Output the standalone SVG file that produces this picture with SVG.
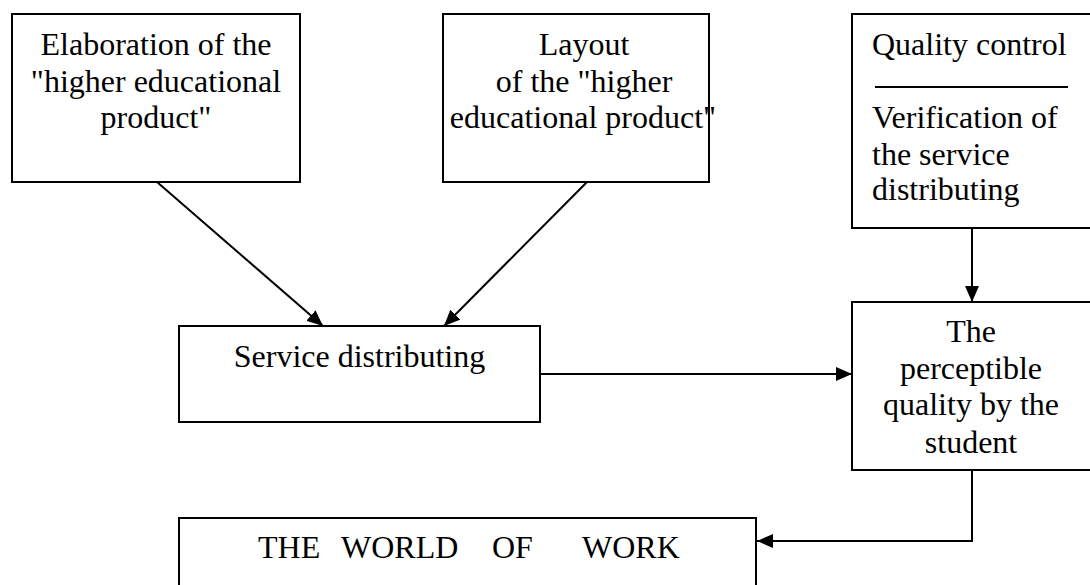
<svg xmlns="http://www.w3.org/2000/svg" width="1090" height="585" viewBox="0 0 1090 585">
<style>
.box{fill:#fff;stroke:#000;stroke-width:2}
.t{font-family:'Liberation Serif','DejaVu Serif',serif;font-size:32px;fill:#000}
.c{text-anchor:middle}
.ln{fill:none;stroke:#000;stroke-width:2}
</style>
<defs>
<marker id="ah" viewBox="0 0 16 14" refX="16" refY="7" markerWidth="16" markerHeight="14" markerUnits="userSpaceOnUse" orient="auto">
<path d="M0,0 L16,7 L0,14 Z" fill="#000"/>
</marker>
</defs>
<rect width="1090" height="585" fill="#fff"/>
<g id="connectors">
<line class="ln" x1="157" y1="182" x2="323" y2="326" marker-end="url(#ah)"/>
<line class="ln" x1="587" y1="182" x2="444" y2="326" marker-end="url(#ah)"/>
<line class="ln" x1="972" y1="228" x2="972" y2="302" marker-end="url(#ah)"/>
<line class="ln" x1="540" y1="374" x2="852" y2="374" marker-end="url(#ah)"/>
<polyline class="ln" points="972,470 972,541 757,541" marker-end="url(#ah)"/>
</g>
<g id="elaboration">
<rect class="box" x="12" y="14" width="288" height="168"/>
<text class="t c" x="156" y="55">Elaboration of the</text>
<text class="t c" x="156" y="92">"higher educational</text>
<text class="t c" x="156" y="128">product"</text>
</g>
<g id="layout">
<rect class="box" x="443" y="14" width="266" height="168"/>
<text class="t c" x="584" y="55">Layout</text>
<text class="t c" x="584" y="92">of the "higher</text>
<text class="t c" x="583" y="128">educational product"</text>
</g>
<g id="quality-control">
<rect class="box" x="852" y="14" width="245" height="214"/>
<text class="t" x="872" y="55">Quality control</text>
<line class="ln" x1="875" y1="87" x2="1068" y2="87"/>
<text class="t" x="872" y="128">Verification of</text>
<text class="t" x="872" y="165">the service</text>
<text class="t" x="872" y="200">distributing</text>
</g>
<g id="service-distributing">
<rect class="box" x="179" y="326" width="361" height="96"/>
<text class="t c" x="359.5" y="367">Service distributing</text>
</g>
<g id="perceptible-quality">
<rect class="box" x="852" y="302" width="245" height="168"/>
<text class="t c" x="971" y="342">The</text>
<text class="t c" x="971" y="379">perceptible</text>
<text class="t c" x="971" y="415">quality by the</text>
<text class="t c" x="971" y="453">student</text>
</g>
<g id="world-of-work">
<rect class="box" x="179" y="518" width="577" height="80"/>
<text class="t" y="558"><tspan x="258">THE</tspan><tspan x="341">WORLD</tspan><tspan x="492">OF</tspan><tspan x="582">WORK</tspan></text>
</g>
</svg>
